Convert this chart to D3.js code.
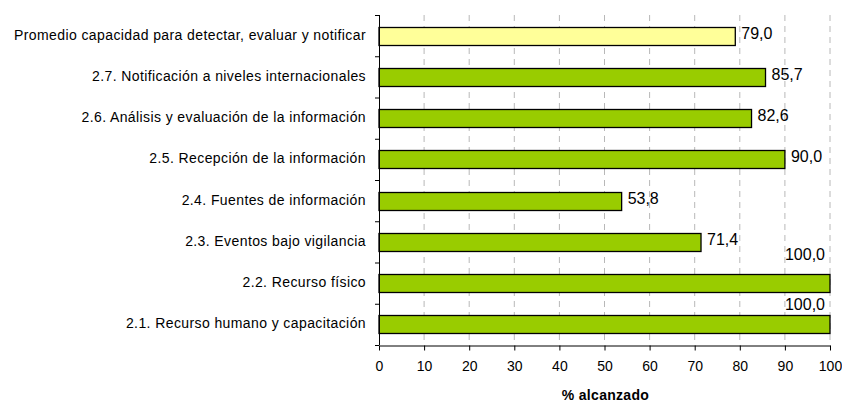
<!DOCTYPE html>
<html>
<head>
<meta charset="utf-8">
<script src="https://cdn.jsdelivr.net/npm/d3@7"></script>
<style>
  html, body { margin: 0; padding: 0; background: #fff; }
  svg { display: block; font-family: "Liberation Sans", Arial, sans-serif; }
</style>
</head>
<body>
<svg id="chart" width="842" height="402"></svg>
<script>
// Categories listed top to bottom
const categories = [
  "Promedio capacidad para detectar, evaluar y notificar",
  "2.7. Notificación a niveles internacionales",
  "2.6. Análisis y evaluación de la información",
  "2.5. Recepción de la información",
  "2.4. Fuentes de información",
  "2.3. Eventos bajo vigilancia",
  "2.2. Recurso físico",
  "2.1. Recurso humano y capacitación"
];
const values = [79.0, 85.7, 82.6, 90.0, 53.8, 71.4, 100.0, 100.0];
const highlighted = [true, false, false, false, false, false, false, false];
const xTicks = [0, 10, 20, 30, 40, 50, 60, 70, 80, 90, 100];
const xTitle = "% alcanzado";

const svg = d3.select("#chart");
const plotLeft = 379, plotRight = 830, plotTop = 15, plotBottom = 345;

const x = d3.scaleLinear().domain([0, 100]).range([plotLeft, plotRight]);
const y = d3.scaleBand().domain(categories).range([plotTop, plotBottom]).paddingInner(0.56).paddingOuter(0.28);
const fmt = v => v.toFixed(1).replace(".", ",");

// dashed vertical gridlines
svg.append("g")
  .selectAll("line")
  .data(xTicks.filter(d => d > 0))
  .join("line")
  .attr("x1", d => x(d)).attr("x2", d => x(d))
  .attr("y1", plotTop).attr("y2", plotBottom)
  .attr("stroke", "#b8b8b8")
  .attr("stroke-width", 1)
  .attr("stroke-dasharray", "6,5");

// bars
svg.append("g")
  .selectAll("rect")
  .data(values)
  .join("rect")
  .attr("x", x(0))
  .attr("y", (d, i) => Math.round(y(categories[i])) + 0.5)
  .attr("width", d => x(d) - x(0))
  .attr("height", Math.round(y.bandwidth()))
  .attr("fill", (d, i) => highlighted[i] ? "#ffff99" : "#99cc00")
  .attr("stroke", "#000")
  .attr("stroke-width", 1.3);

// value labels: beside the bar, or lifted above it when the bar fills the axis
let fullCount = 0;
const fullLift = [14, 5];
svg.append("g")
  .selectAll("text")
  .data(values)
  .join("text")
  .attr("x", d => d >= 100 ? x(d) - 5 : x(d) + 6)
  .attr("y", (d, i) => d >= 100
    ? Math.round(y(categories[i])) - fullLift[Math.min(fullCount++, fullLift.length - 1)]
    : y(categories[i]) + y.bandwidth() / 2 + 3)
  .attr("text-anchor", d => d >= 100 ? "end" : "start")
  .attr("font-size", 16)
  .attr("fill", "#000")
  .text(fmt);

// y axis: line, boundary ticks, labels
const yAxis = svg.append("g");
yAxis.append("line")
  .attr("x1", plotLeft + 0.5).attr("x2", plotLeft + 0.5)
  .attr("y1", plotTop).attr("y2", plotBottom)
  .attr("stroke", "#000");
yAxis.selectAll("line.tk")
  .data(d3.range(categories.length + 1))
  .join("line")
  .attr("class", "tk")
  .attr("x1", plotLeft - 4).attr("x2", plotLeft)
  .attr("y1", i => plotTop + i * (plotBottom - plotTop) / categories.length + 0.5)
  .attr("y2", i => plotTop + i * (plotBottom - plotTop) / categories.length + 0.5)
  .attr("stroke", "#000");
yAxis.selectAll("text")
  .data(categories)
  .join("text")
  .attr("x", plotLeft - 13)
  .attr("y", d => y(d) + y.bandwidth() / 2 + 4)
  .attr("text-anchor", "end")
  .attr("font-size", 14)
  .attr("letter-spacing", 0.4)
  .attr("fill", "#000")
  .text(d => d);

// x axis
const xAxis = svg.append("g").attr("transform", `translate(0,${plotBottom + 0.5})`)
  .call(d3.axisBottom(x).tickValues(xTicks).tickSize(5).tickSizeOuter(0).tickPadding(11));
xAxis.select(".domain").attr("stroke", "#000");
xAxis.selectAll(".tick line").attr("stroke", "#000");
xAxis.selectAll("text").attr("font-size", 14).attr("font-family", "Liberation Sans, Arial, sans-serif").attr("fill", "#000");

svg.append("text")
  .attr("x", (plotLeft + plotRight) / 2 + 1)
  .attr("y", 400)
  .attr("text-anchor", "middle")
  .attr("font-size", 14)
  .attr("letter-spacing", 0.3)
  .attr("font-weight", "bold")
  .text(xTitle);
</script>
</body>
</html>
